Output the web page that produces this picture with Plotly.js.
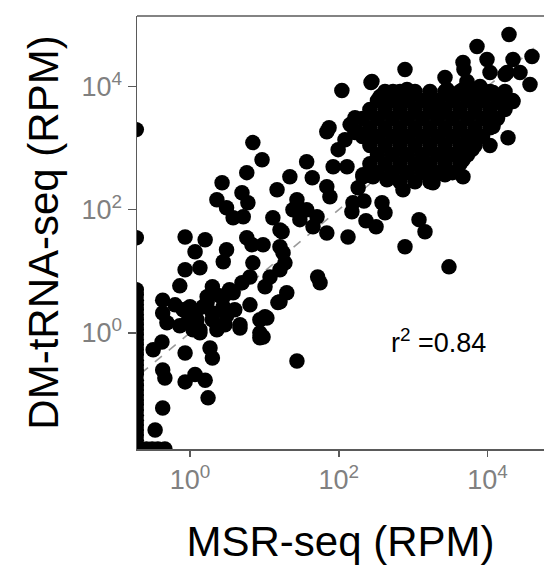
<!DOCTYPE html>
<html>
<head>
<meta charset="utf-8">
<script src="https://cdn.plot.ly/plotly-3.0.1.min.js"></script>
<style>
html,body{margin:0;padding:0;background:#fff;overflow:hidden;}
#chart{width:544px;height:565px;}
</style>
</head>
<body>
<div id="chart"></div>
<script>
// MSR-seq RPM (x) and DM-tRNA-seq RPM (y).
// Points with zero MSR-seq counts sit on the left axis edge (0.19).
const msrZeroColumn = [0.19,0.19,0.19,0.19,0.19,0.19,0.19,0.19,0.19,0.19,0.19,0.19,0.19,0.19,0.19,0.19,0.19,0.19,0.19,0.19,0.19,0.19,0.19,0.19,0.19,0.19,0.19,0.19,0.19,0.19,0.19,0.19,0.19,0.19];
const dmZeroColumn  = [2000,35,5.0,4.15,3.4,2.85,2.37,1.96,1.63,1.35,1.12,0.93,0.77,0.64,0.53,0.44,0.36,0.30,0.25,0.21,0.17,0.14,0.118,0.098,0.081,0.068,0.056,0.046,0.038,0.032,0.0265,0.022,0.018,0.015];

const msrBottomRow = [0.21,0.26,0.31,0.37,0.46];
const dmBottomRow  = [0.013,0.013,0.013,0.013,0.013];

const msrLow = [0.32,0.42,0.43,0.46,0.86,0.86,1.17,1.6,1.75,0.43,0.34,2.0,1.86,4.7,8.7,8.7,10.8,15.2,0.43,0.43,0.49,0.73,1.1,1.7,2.5,3.8,3.1,2.0,1.36,0.73,0.81,0.91,1.24,1.0,1.5,2.0,2.8,1.36,2.3,4.7,8.7,2.0,1.7,2.8,3.4,0.63,1.17,4.0,6.4,2.95,9.6,10.2,27.4];
const dmLow  = [0.53,0.71,0.25,0.185,0.47,0.16,0.21,0.17,0.088,0.060,0.0265,0.39,0.57,1.2,0.83,1.63,1.75,3.1,3.4,2.1,1.46,1.3,1.12,3.1,4.0,4.5,1.9,1.63,1.0,5.8,2.37,1.46,1.63,2.65,2.65,2.1,2.65,1.12,1.12,1.35,1.0,5.6,3.85,3.85,5.0,2.85,1.96,2.37,2.85,1.35,0.86,1.82,0.35];

const msrMid = [7.0,9.3,5.8,2.7,2.3,3.1,5.0,6.0,5.2,3.8,0.86,1.6,1.17,3.1,2.8,5.8,6.8,9.6,0.86,1.36,7.0,6.4,5.0,11.9,10.2,16.2,17.8,16.2,14.8,13.0,16.2,22,37,44,24.2,27.4,37,30,51,45,69,76,69,133,52,150,155,218,381,418,232,317,98,84,129,69,176,211,20,16.2,17.3,18.9,56,776,1197,1441,3027,110,271,74,165,165,142,121,182];
const dmMid  = [1230,650,400,275,145,108,189,130,77,74,36,32.5,20.8,22.4,14.3,35,27,27,10.6,11.4,13.7,8.1,6.5,8.1,5.6,10.6,20,25,211,74,47,344,603,331,100,145,100,69,77,53,237,163,42,36,8.1,93,130,138,130,89,66,53,946,500,500,1850,1850,344,4.5,3.2,44,13.7,6.5,25,69,44,11.8,8610,11610,2150,3130,1790,2410,1370,228];

const msrHigh = [19400,39510,7205,9820,10770,4670,776,279,2675,5284,21950,18240,27250,37140,21950,18810,358,535,826,1532,2290,2844,4670,7906,11820,14680,211,288,444,729,1845,2675,4670,2844,4670,1234,7906,11820,6166,1630,17140,4815];
const dmHigh  = [70100,30760,44700,27480,16900,24560,18900,12050,14010,12050,27480,16900,16900,10780,5700,1480,6870,8300,8940,6150,4560,8940,8940,10000,7990,5490,371,344,307,211,275,371,344,845,650,581,1540,2240,946,400,15680,18900];

// dense, overlapping core of the cloud (read as a solid black mass)
const msrCore = [
  418,665,1057,1682,2675,4257,6771,10770,17140,
  331,527,838,1334,2122,3376,5370,8540,13590,21630,
  262,418,665,1057,1682,2675,4257,6771,10770,17140,
  208,331,527,838,1334,2122,3376,5370,8540,13590,
  262,418,665,1057,1682,2675,4257,6771,10770,
  208,331,527,838,1334,2122,3376,5370,8540,
  262,418,665,1057,1682,2675,4257,6771,10770,
  331,527,838,1334,2122,3376,5370,
  262,418,665,1057,1682,2675,4257,
  331,527,838,1334,2122,3376,
  665,1057,1682];
const dmCore = [
  8300,8300,8300,8300,8300,8300,8300,8300,8300,
  5920,5920,5920,5920,5920,5920,5920,5920,5920,5920,
  4230,4230,4230,4230,4230,4230,4230,4230,4230,4230,
  3020,3020,3020,3020,3020,3020,3020,3020,3020,3020,
  2150,2150,2150,2150,2150,2150,2150,2150,2150,
  1540,1540,1540,1540,1540,1540,1540,1540,1540,
  1100,1100,1100,1100,1100,1100,1100,1100,1100,
  784,784,784,784,784,784,784,
  560,560,560,560,560,560,560,
  400,400,400,400,400,400,
  285,285,285];

// identity (y = x) reference line, dashed
const fitX = [0.22, 42000];
const fitY = [0.22, 42000];

const tickVals = [1, 100, 10000];
const tickText = ['10<sup>0</sup>', '10<sup>2</sup>', '10<sup>4</sup>'];
const r2Label = 'r<sup>2</sup> =0.84';

const msrAll = [].concat(msrZeroColumn, msrBottomRow, msrLow, msrMid, msrHigh, msrCore);
const dmAll  = [].concat(dmZeroColumn, dmBottomRow, dmLow, dmMid, dmHigh, dmCore);

const FONT = 'Liberation Sans, Arial, Helvetica, sans-serif';
const AXIS_COLOR = '#5a5a5a';

const traces = [
  {
    x: fitX, y: fitY, type: 'scatter', mode: 'lines',
    line: {color: '#9a9a9a', width: 1.6, dash: 'dash'},
    hoverinfo: 'skip', showlegend: false
  },
  {
    x: msrAll, y: dmAll, type: 'scatter', mode: 'markers',
    marker: {color: '#000000', size: 15.5, line: {width: 0}},
    cliponaxis: true, showlegend: false
  }
];

const layout = {
  width: 544, height: 565,
  margin: {l: 137, r: 0, t: 16, b: 116, pad: 0},
  paper_bgcolor: '#ffffff', plot_bgcolor: '#ffffff',
  font: {family: FONT, color: '#000'},
  showlegend: false,
  xaxis: {
    type: 'log', range: [-0.712, 4.758], autorange: false,
    tickvals: tickVals, ticktext: tickText,
    tickfont: {size: 27, color: '#808080', family: FONT},
    ticks: 'outside', ticklen: 6, tickwidth: 1.5, tickcolor: AXIS_COLOR,
    showline: true, linecolor: AXIS_COLOR, linewidth: 1.5,
    showgrid: false, zeroline: false,
    title: {text: 'MSR-seq (RPM)', font: {size: 42, color: '#000', family: FONT}, standoff: 32}
  },
  yaxis: {
    type: 'log', range: [-1.886, 5.146], autorange: false,
    tickvals: tickVals, ticktext: tickText,
    tickfont: {size: 27, color: '#808080', family: FONT},
    ticks: 'outside', ticklen: 8, tickwidth: 1.5, tickcolor: AXIS_COLOR,
    showline: true, linecolor: AXIS_COLOR, linewidth: 1.5,
    showgrid: false, zeroline: false,
    title: {text: 'DM-tRNA-seq (RPM)', font: {size: 42, color: '#000', family: FONT}, standoff: 10}
  },
  shapes: [
    {type: 'line', xref: 'paper', yref: 'paper', x0: 0, x1: 1, y0: 1, y1: 1,
     line: {color: AXIS_COLOR, width: 1.5}}
  ],
  annotations: [
    {text: r2Label, xref: 'paper', yref: 'paper', x: 0.7396, y: 0.2497,
     xanchor: 'center', yanchor: 'middle', showarrow: false,
     font: {size: 27, color: '#000', family: FONT}}
  ]
};

Plotly.newPlot('chart', traces, layout, {displayModeBar: false, staticPlot: true});
</script>
</body>
</html>
